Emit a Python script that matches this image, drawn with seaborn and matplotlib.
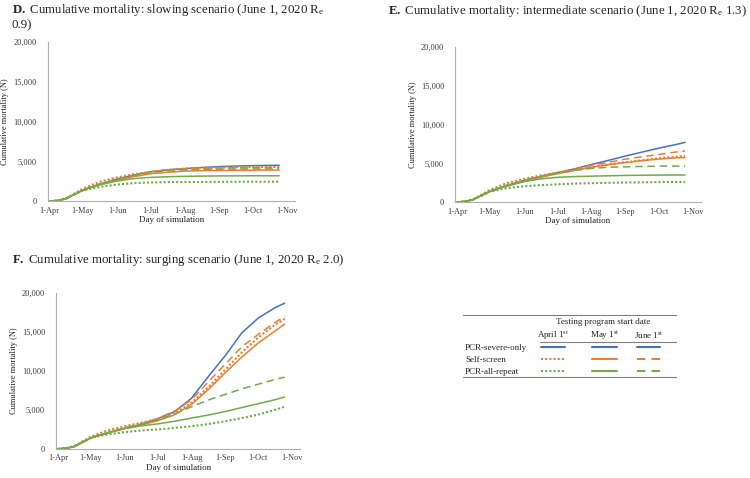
import numpy as np
import pandas as pd
import matplotlib
matplotlib.use("Agg")
import matplotlib.pyplot as plt
import seaborn as sns
from matplotlib.ticker import FuncFormatter

# --- DATA ---
days = [0, 8, 15, 30, 45, 61, 76, 91, 107, 122, 138, 153, 168, 183, 198, 207]
month_ticks = [0, 30, 61, 91, 122, 153, 183, 214]
month_labels = ["1-Apr", "1-May", "1-Jun", "1-Jul", "1-Aug", "1-Sep", "1-Oct", "1-Nov"]

# D. slowing scenario
slow_severe   = [0, 100, 350, 1400, 2150, 2800, 3300, 3700, 3950, 4100, 4250, 4350, 4420, 4470, 4500, 4520]
slow_self_apr = [0, 120, 400, 1600, 2450, 3000, 3400, 3700, 3950, 4100, 4180, 4230, 4270, 4290, 4300, 4310]
slow_self_may = [0, 100, 350, 1400, 2100, 2650, 3100, 3450, 3650, 3780, 3850, 3880, 3900, 3910, 3920, 3920]
slow_self_jun = [0, 100, 350, 1400, 2150, 2800, 3300, 3700, 3950, 4080, 4150, 4190, 4210, 4220, 4230, 4230]
slow_all_apr  = [0, 100, 350, 1350, 1800, 2100, 2280, 2360, 2400, 2420, 2430, 2440, 2440, 2450, 2450, 2450]
slow_all_may  = [0, 100, 350, 1400, 2050, 2550, 2850, 3000, 3080, 3130, 3160, 3180, 3190, 3200, 3200, 3200]
slow_all_jun  = [0, 100, 350, 1400, 2150, 2800, 3250, 3600, 3820, 3950, 4000, 4030, 4040, 4050, 4050, 4050]

# E. intermediate scenario
mid_severe   = [0, 100, 350, 1400, 2150, 2800, 3300, 3800, 4300, 4850, 5400, 5950, 6450, 6950, 7400, 7700]
mid_self_apr = [0, 120, 400, 1600, 2450, 3000, 3450, 3800, 4150, 4500, 4850, 5150, 5400, 5650, 5850, 5950]
mid_self_may = [0, 100, 350, 1400, 2100, 2700, 3200, 3650, 4100, 4500, 4850, 5100, 5350, 5550, 5700, 5750]
mid_self_jun = [0, 100, 350, 1400, 2150, 2800, 3300, 3800, 4250, 4750, 5150, 5550, 5850, 6150, 6450, 6600]
mid_all_apr  = [0, 100, 350, 1350, 1800, 2050, 2200, 2300, 2400, 2450, 2500, 2530, 2560, 2590, 2600, 2600]
mid_all_may  = [0, 100, 350, 1400, 2050, 2650, 3000, 3200, 3300, 3350, 3400, 3450, 3470, 3490, 3500, 3500]
mid_all_jun  = [0, 100, 350, 1400, 2150, 2800, 3300, 3750, 4100, 4350, 4500, 4550, 4600, 4650, 4650, 4650]

# F. surging scenario
surge_severe   = [0, 80, 300, 1400, 2050, 2650, 3150, 3850, 4800, 6500, 9400, 12000, 14900, 16800, 18100, 18700]
surge_self_apr = [0, 100, 350, 1550, 2350, 2900, 3350, 3850, 4600, 5900, 8000, 10200, 12400, 14300, 15900, 16700]
surge_self_may = [0, 80, 300, 1400, 2050, 2600, 3050, 3600, 4400, 5700, 7700, 9800, 11800, 13600, 15100, 16000]
surge_self_jun = [0, 80, 300, 1400, 2050, 2700, 3200, 3900, 4900, 6300, 8700, 10900, 13100, 14700, 16200, 17000]
surge_all_apr  = [0, 100, 350, 1400, 1850, 2150, 2350, 2500, 2700, 2900, 3200, 3550, 3950, 4400, 5000, 5400]
surge_all_may  = [0, 80, 300, 1400, 2050, 2600, 2950, 3200, 3550, 3950, 4350, 4800, 5300, 5800, 6300, 6650]
surge_all_jun  = [0, 80, 300, 1400, 2050, 2650, 3150, 3700, 4500, 5400, 6300, 7000, 7700, 8300, 8900, 9200]

BLUE, ORANGE, GREEN = "#4472C4", "#ED7D31", "#70AD47"
DOT = (0, (1, 1))
DASH = (0, (5, 3))

# (color, linestyle, linewidth) in legend order
styles = [
    (BLUE, "-", 1.1),
    (ORANGE, DOT, 1.5),
    (ORANGE, "-", 1.1),
    (ORANGE, DASH, 1.1),
    (GREEN, DOT, 1.5),
    (GREEN, "-", 1.1),
    (GREEN, DASH, 1.1),
]

panels = [
    ([0.064, 0.579, 0.329, 0.333],
     [slow_severe, slow_self_apr, slow_self_may, slow_self_jun, slow_all_apr, slow_all_may, slow_all_jun]),
    ([0.607, 0.577, 0.327, 0.325],
     [mid_severe, mid_self_apr, mid_self_may, mid_self_jun, mid_all_apr, mid_all_may, mid_all_jun]),
    ([0.075, 0.061, 0.325, 0.326],
     [surge_severe, surge_self_apr, surge_self_may, surge_self_jun, surge_all_apr, surge_all_may, surge_all_jun]),
]

sns.set_style("white")
plt.rcParams['font.family'] = ['Liberation Serif', 'DejaVu Serif']
plt.rcParams['mathtext.fontset'] = 'custom'
plt.rcParams['mathtext.rm'] = 'Liberation Serif'
plt.rcParams['mathtext.bf'] = 'Liberation Serif:bold'
plt.rcParams['mathtext.it'] = 'Liberation Serif:italic'

fig = plt.figure(figsize=(7.5, 4.78), dpi=100)

for rect, series in panels:
    ax = fig.add_axes(rect)
    for vals, (c, ls, lw) in zip(series, styles):
        sns.lineplot(x=days, y=vals, ax=ax, color=c, linestyle=ls, linewidth=lw)
    ax.set_xlim(-1.5, 221)
    ax.set_ylim(0, 20000)
    ax.set_yticks([0, 5000, 10000, 15000, 20000])
    ax.yaxis.set_major_formatter(FuncFormatter(lambda v, p: f"{int(v):,}"))
    ax.set_xticks(month_ticks)
    ax.set_xticklabels(month_labels)
    ax.tick_params(axis="both", length=0, labelsize=6, colors="#404040")
    ax.tick_params(axis="y", pad=8)
    ax.tick_params(axis="x", pad=4)
    for s in ["top", "right"]:
        ax.spines[s].set_visible(False)
    for s in ["left", "bottom"]:
        ax.spines[s].set_color("#b0b0b0")
        ax.spines[s].set_linewidth(0.8)
    ax.set_xlabel("Day of simulation", fontsize=6.5, labelpad=1, color="#202020")
    ax.set_ylabel("Cumulative mortality (N)", fontsize=6, labelpad=3, color="#202020")

# panel titles
fig.text(12 / 750, 1 - 2 / 478,
         r"$\bf{D.}$ Cumulative mortality: slowing scenario (June 1, 2020 R$_\mathregular{e}$" "\n0.9)",
         fontsize=9.3, va="top", ha="left", linespacing=1.1)
fig.text(388 / 750, 1 - 3 / 478,
         r"$\bf{E.}$ Cumulative mortality: intermediate scenario (June 1, 2020 R$_\mathregular{e}$ 1.3)",
         fontsize=9.3, va="top", ha="left")
fig.text(12 / 750, 1 - 252 / 478,
         r"$\bf{F.}$ Cumulative mortality: surging scenario (June 1, 2020 R$_\mathregular{e}$ 2.0)",
         fontsize=9.3, va="top", ha="left")

# legend table drawn in pixel coordinates
leg = fig.add_axes([0, 0, 1, 1])
leg.set_xlim(0, 750)
leg.set_ylim(478, 0)
leg.axis("off")
leg.patch.set_alpha(0)

rule = dict(color="#808080", linewidth=0.8)
leg.plot([463, 676], [315, 315], **rule)
leg.plot([540, 676], [342, 342], **rule)
leg.plot([463, 676], [377, 377], **rule)

leg.text(603, 322, "Testing program start date", fontsize=6.5, ha="center", va="center")
col_x = [553, 605, 649]
col_labels = [r"April 1$^\mathregular{st}$", r"May 1$^\mathregular{st}$", r"June 1$^\mathregular{st}$"]
for cx, lab in zip(col_x, col_labels):
    leg.text(cx, 336, lab, fontsize=6.5, ha="center", va="center")

row_y = [348, 360, 372]
row_labels = ["PCR-severe-only", "Self-screen", "PCR-all-repeat"]
for ry, lab in zip(row_y, row_labels):
    leg.text(465, ry, lab, fontsize=6.5, ha="left", va="center")

seg_x = [(541, 565), (592, 617), (637, 660)]
legend_cells = [
    [(BLUE, "-", 1.5), (BLUE, "-", 1.5), (BLUE, "-", 1.5)],
    [(ORANGE, DOT, 1.5), (ORANGE, "-", 1.5), (ORANGE, (0, (4, 3)), 1.5)],
    [(GREEN, DOT, 1.5), (GREEN, "-", 1.5), (GREEN, (0, (4, 3)), 1.5)],
]
for ry, cells in zip(row_y, legend_cells):
    for (x0, x1), (c, ls, lw) in zip(seg_x, cells):
        leg.plot([x0, x1], [ry - 1, ry - 1], color=c, linestyle=ls, linewidth=lw)

fig.savefig("out.png", dpi=100)
